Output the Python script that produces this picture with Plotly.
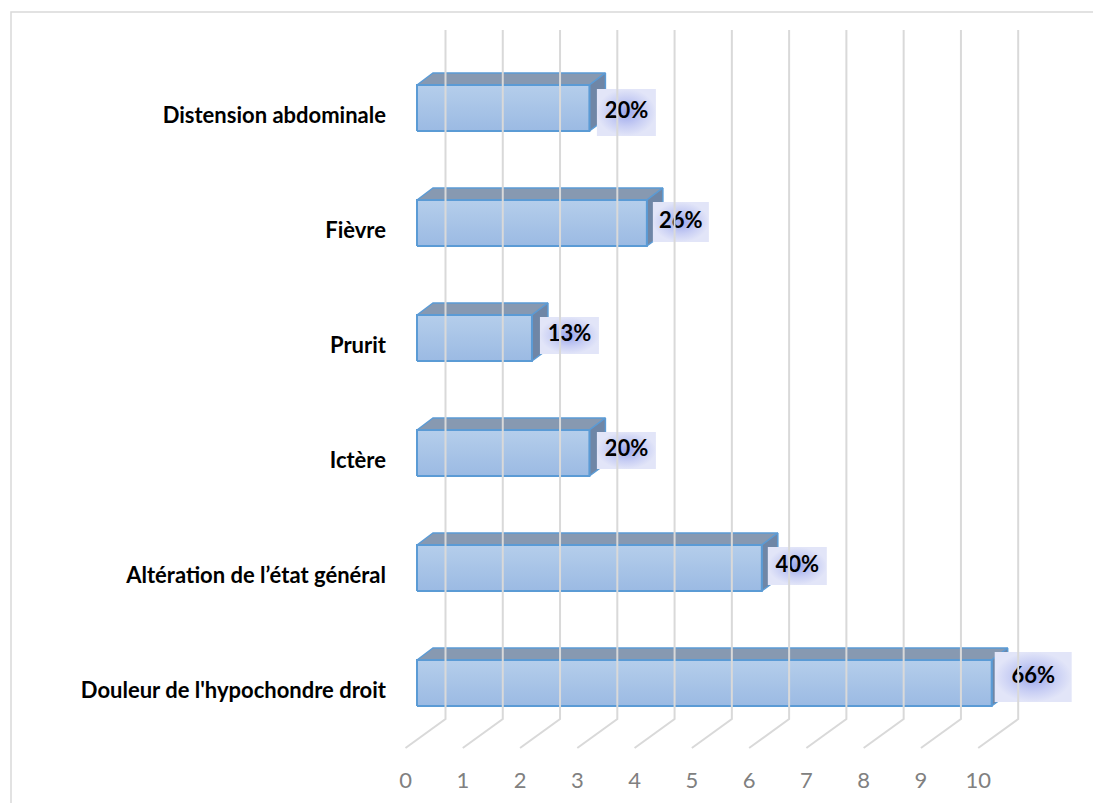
import plotly.graph_objects as go

# ---- data -------------------------------------------------------------
categories = [
    "Douleur de l'hypochondre droit",
    "Altération de l’état général",
    "Ictère",
    "Prurit",
    "Fièvre",
    "Distension abdominale",
]
counts = [10, 6, 3, 2, 4, 3]          # number of patients per symptom
N_PATIENTS = 15
x_ticks = list(range(0, 11))
x_tick_text = [str(t) for t in x_ticks]

pct_labels = [f"{int(c * 100 / N_PATIENTS)}%" for c in counts]

# ---- geometry (pixels) ------------------------------------------------
W, H = 1093, 803
L, R, T, B = 395, 0, 0, 38
PW, PH = W - L - R, H - T - B

SX = 57.47     # px per unit, bar front faces
SG = 57.27     # px per unit, floor / wall grid
SY = 115.0     # px per category row

x_rng = [-22 / SX, -22 / SX + PW / SX]
g_lo = -(405.5 - L) / SG
g_rng = [g_lo, g_lo + PW / SG]
y_hi = (683 - T) / SY
y_rng = [y_hi - PH / SY, y_hi]
LABEL_SHIFT = 7 / SY


def ypx(p):
    """pixel row -> y data value"""
    return y_hi - (p - T) / SY


# 3D depth of a bar and of the floor
BAR_HALF = 23 / SY
BAR_DX, BAR_DY = 16 / SX, 12 / SY
WALL_DX = 40 / SG

# value-label boxes (px): width, height, vertical offset, gap after bar
box_w = [77, 59, 59, 59, 56, 59]
box_h = [50, 38, 37, 37, 40, 47]
box_off = [-6, -2, -2.5, -2.5, -1, 4.5]
box_gap = [3, 6, 7.5, 8, 6, 7.5]

EDGE = "#5b9bd5"
TOP_FACE = "#8799b1"
SIDE_FACE = "#6f86a6"
GRID = "#d9d9d9"

fig = go.Figure()

# ---- back wall + floor grid lines --------------------------------------
gx, gy = [], []
for t in x_ticks:
    gx += [t + WALL_DX, t + WALL_DX, t, None]
    gy += [ypx(30), ypx(719), ypx(748), None]
fig.add_trace(go.Scatter(
    x=gx, y=gy, mode="lines", xaxis="x2", yaxis="y",
    line=dict(color=GRID, width=2), hoverinfo="skip", showlegend=False,
))

# ---- 3D bars ----------------------------------------------------------
for k, v in enumerate(counts):
    h = BAR_HALF
    # top face
    fig.add_trace(go.Scatter(
        x=[0, BAR_DX, v + BAR_DX, v, 0],
        y=[k + h, k + h + BAR_DY, k + h + BAR_DY, k + h, k + h],
        mode="lines", fill="toself", fillcolor=TOP_FACE,
        line=dict(color=EDGE, width=1.5), hoverinfo="skip", showlegend=False,
    ))
    # side face
    fig.add_trace(go.Scatter(
        x=[v, v + BAR_DX, v + BAR_DX, v, v],
        y=[k - h, k - h + BAR_DY, k + h + BAR_DY, k + h, k - h],
        mode="lines", fill="toself", fillcolor=SIDE_FACE,
        line=dict(color=EDGE, width=1.5), hoverinfo="skip", showlegend=False,
    ))
    # front face
    fig.add_trace(go.Scatter(
        x=[0, v, v, 0, 0],
        y=[k - h, k - h, k + h, k + h, k - h],
        mode="lines", fill="toself",
        fillgradient=dict(type="vertical",
                          colorscale=[[0, "#9bbae3"], [1, "#b5ceeb"]]),
        line=dict(color=EDGE, width=2), hoverinfo="skip", showlegend=False,
    ))

# ---- value labels -----------------------------------------------------
tx, ty = [], []
for k, v in enumerate(counts):
    x0 = v + box_gap[k] / SX
    x1 = x0 + box_w[k] / SX
    yc = k - box_off[k] / SY
    y0 = yc - box_h[k] / 2 / SY
    y1 = yc + box_h[k] / 2 / SY
    fig.add_trace(go.Scatter(
        x=[x0, x1, x1, x0, x0], y=[y0, y0, y1, y1, y0],
        mode="lines", fill="toself",
        fillgradient=dict(type="radial",
                          colorscale=[[0, "#9ca7ec"], [0.6, "#c9cff4"],
                                      [1, "#e2e5f8"]]),
        line=dict(width=0, color="rgba(0,0,0,0)"),
        hoverinfo="skip", showlegend=False,
    ))
    tx.append((x0 + x1) / 2)
    ty.append(yc)

fig.add_trace(go.Scatter(
    x=tx, y=ty, mode="text", text=pct_labels,
    textfont=dict(family="Lato", size=22, color="#000000", weight="bold"),
    hoverinfo="skip", showlegend=False,
))

# invisible trace so the category-label axis is rendered
fig.add_trace(go.Scatter(
    x=[0], y=[0], xaxis="x", yaxis="y2", mode="markers",
    marker=dict(opacity=0), hoverinfo="skip", showlegend=False,
))

# ---- chart frame --------------------------------------------------------
fig.add_shape(
    type="rect", xref="paper", yref="paper",
    x0=(11 - L) / PW, x1=(1130 - L) / PW,
    y0=(PH - (840 - T)) / PH, y1=(PH - (12 - T)) / PH,
    line=dict(color=GRID, width=1.5), fillcolor="rgba(0,0,0,0)", layer="below",
)

fig.update_layout(
    width=W, height=H,
    margin=dict(l=L, r=R, t=T, b=B),
    paper_bgcolor="white", plot_bgcolor="white",
    showlegend=False,
    xaxis=dict(range=x_rng, visible=False, fixedrange=True),
    yaxis=dict(range=y_rng, visible=False, fixedrange=True),
    xaxis2=dict(
        range=g_rng, overlaying="x", anchor="y", side="bottom",
        tickmode="array", tickvals=x_ticks, ticktext=x_tick_text,
        showgrid=False, zeroline=False, showline=False, ticks="",
        tickfont=dict(family="Lato", size=22, color="#808080"),
    ),
    yaxis2=dict(
        range=[y_rng[0] + LABEL_SHIFT, y_rng[1] + LABEL_SHIFT],
        overlaying="y", anchor="x", side="left",
        tickmode="array", tickvals=list(range(len(categories))),
        ticktext=categories,
        showgrid=False, zeroline=False, showline=False, ticks="",
        ticklabelstandoff=8,
        tickfont=dict(family="Lato", size=22, color="#000000", weight="bold"),
    ),
)

fig.write_html("out.html")
